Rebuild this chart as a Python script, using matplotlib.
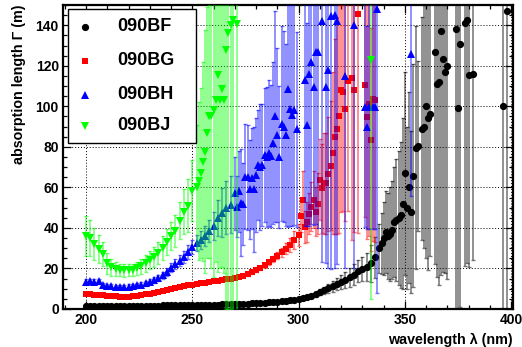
import numpy as np
import matplotlib.pyplot as plt
from matplotlib.ticker import MultipleLocator
from matplotlib.patches import Rectangle

plt.rcParams['font.family'] = ['Liberation Sans', 'DejaVu Sans']
plt.rcParams['font.weight'] = 'bold'

# ---- 090BF (black circles) ----
bf_x = list(range(200, 339, 2)) + [339, 340, 341, 342, 343, 344, 345, 346, 347, 348, 349, 350, 351,
                                   352, 353, 354, 355, 356, 358, 359, 360, 361, 362, 364, 365, 366,
                                   367, 368, 369, 370, 374, 375, 376, 378, 379, 380, 382, 396, 398]
bf_y = [1.5, 1.5, 1.5, 1.5, 1.5, 1.5, 1.5, 1.5, 1.6, 1.6,
        1.6, 1.6, 1.6, 1.6, 1.7, 1.7, 1.7, 1.7, 1.8, 1.8,
        1.8, 1.8, 1.9, 1.9, 1.9, 2.0, 2.0, 2.0, 2.1, 2.1,
        2.2, 2.2, 2.3, 2.3, 2.4, 2.5, 2.5, 2.6, 2.7, 2.8,
        2.9, 3.0, 3.1, 3.3, 3.4, 3.6, 3.8, 4.0, 4.3, 4.6,
        4.9, 5.4, 5.9, 6.5, 7.3, 8.3, 9.2, 10.2, 11.2, 12.2,
        13.2, 14.4, 15.6, 17.0, 18.6, 19.8, 20.8, 22.5, 25.5, 30.0,
        32.5, 35, 38, 36, 37, 39, 43, 44, 45, 46.4,
        52, 67, 50, 60, 48, 65.7, 79.5, 80.5, 89, 90,
        100, 94, 96, 127, 111, 112, 137, 123.5, 117, 120,
        138, 99.4, 131, 141, 142.5, 115.5, 116, 100, 147]
bf_e = [0.3, 0.3, 0.3, 0.3, 0.3, 0.3, 0.3, 0.3, 0.3, 0.3,
        0.3, 0.3, 0.3, 0.3, 0.3, 0.3, 0.3, 0.3, 0.3, 0.3,
        0.3, 0.3, 0.3, 0.3, 0.3, 0.3, 0.3, 0.3, 0.3, 0.3,
        0.3, 0.3, 0.3, 0.3, 0.3, 0.3, 0.3, 0.3, 0.3, 0.3,
        0.3, 0.3, 0.3, 0.4, 0.4, 0.4, 0.4, 0.4, 0.5, 0.5,
        0.5, 0.6, 0.8, 1.0, 1.2, 1.5, 1.8, 2.2, 2.6, 3.0,
        3.5, 4.0, 4.5, 5.0, 5.5, 6.0, 7.0, 9.0, 10, 12,
        15, 18, 20, 21, 23, 24, 27, 30, 33, 36,
        42, 50, 40, 47, 40, 55, 60, 42, 55, 60,
        75, 75, 70, 105, 95, 100, 120, 105, 99, 105,
        140, 105, 130, 120, 120, 95, 92, 110, 150]

# ---- 090BG (red squares) ----
bg_x = list(range(200, 301, 2)) + [301, 302, 303, 304, 305, 306, 307, 308, 309, 310, 311, 312, 313,
                                   314, 315, 316, 317, 318, 319, 320, 321, 322, 323, 325, 326, 328,
                                   331, 332, 333, 334, 335, 336]
bg_y = [7.4, 7.3, 7.1, 7.0, 6.8, 6.6, 6.4, 6.2, 6.1, 6.0,
        6.1, 6.2, 6.5, 6.8, 7.2, 7.6, 8.0, 8.5, 9.0, 9.5,
        10.0, 10.4, 10.9, 11.3, 11.7, 12.0, 12.3, 12.6, 12.9, 13.2,
        13.6, 13.9, 14.2, 14.6, 14.9, 15.3, 15.8, 16.4, 17.2, 18.1,
        19.0, 20.2, 21.5, 23.0, 24.6, 26.3, 28.0, 29.8, 31.6, 34.0,
        36.5,
        46, 54, 40.6, 43, 47, 50.5, 54, 48, 52, 63.7,
        59.6, 62, 62, 66.7, 70.8, 77, 85, 89, 95.3, 108,
        107.3, 98.6, 112.3, 114, 108, 145.7, 110.6, 94.5, 101, 83.6,
        103.7, 103]
bg_e = [0.4, 0.4, 0.4, 0.4, 0.4, 0.4, 0.4, 0.4, 0.4, 0.4,
        0.4, 0.4, 0.4, 0.4, 0.4, 0.4, 0.4, 0.4, 0.4, 0.4,
        0.4, 0.4, 0.4, 0.4, 0.4, 0.5, 0.5, 0.5, 0.5, 0.5,
        0.5, 0.5, 0.5, 0.5, 0.6, 0.6, 0.6, 0.7, 0.7, 0.8,
        0.9, 1.0, 1.1, 1.3, 1.5, 1.8, 2.2, 2.8, 3.5, 4.5,
        5.5,
        8, 14, 8, 10, 10, 12, 14, 12, 15, 20,
        22, 25, 25, 28, 32, 40, 48, 52, 58, 60,
        59, 55, 64, 80, 70, 108, 65, 60, 65, 55,
        70, 70]

# ---- 090BH (blue triangles) ----
bh_x = list(range(200, 259, 2)) + [260, 262, 264, 266, 268, 270, 271, 272, 273, 274, 275, 276, 277,
                                   278, 279, 280, 281, 282, 283, 284, 285, 286, 287, 288, 289, 290,
                                   291, 292, 293, 294, 295, 296, 297, 298, 299, 303, 304, 305, 306,
                                   307, 308, 309, 311, 313, 314, 315, 317, 318, 322, 326, 331, 332,
                                   333, 335, 336, 337, 353]
bh_y = [13.5, 13.6, 13.4, 13.7, 12.0, 11.5, 11.2, 11.0, 11.0, 11.0,
        11.1, 11.3, 11.6, 12.0, 12.6, 13.4, 14.3, 15.4, 16.6, 18.2,
        20.3, 22.0, 23.8, 25.8, 28.2, 30.5, 32.4, 34.0, 36.0, 38.5,
        41, 45, 47.5, 50, 51.4, 57, 50.4, 58, 52.5, 51.8,
        65.3, 65, 59, 64.5, 59, 66, 71, 70, 71, 76,
        75, 77, 75.6, 81.8, 95, 86, 75, 91.5, 90, 86,
        108.5, 98.8, 95.8, 98.3, 88.7, 113, 91, 116, 122, 109.5,
        127, 127, 142, 109.5, 118, 144.5, 145, 142, 115, 140,
        99.7, 89.7, 99.7, 99.7, 99.7, 148, 125.8]
bh_e = [1.2, 1.2, 1.2, 1.2, 1.0, 1.0, 1.0, 1.0, 1.0, 1.0,
        1.0, 1.0, 1.0, 1.1, 1.2, 1.3, 1.4, 1.5, 1.7, 2.0,
        2.2, 2.5, 2.8, 3.0, 3.3, 3.6, 4.0, 4.5, 5.0, 5.5,
        7, 9, 12, 13, 14, 18, 15, 20, 26.5, 20,
        26, 26, 24.5, 25, 31, 28, 27, 31, 30, 33,
        34.5, 36, 35, 40, 52, 43, 35, 48, 47, 45,
        68, 58, 55, 57, 48, 72, 50, 75, 80, 68,
        85, 87, 119, 87, 98, 125, 125, 120, 95, 120,
        59, 50, 60, 60, 60, 140, 70]

# ---- 090BJ (green down triangles) ----
bj_x = list(range(200, 253, 2)) + [253, 254, 255, 256, 257, 258, 259, 260, 261, 262, 263, 264, 265,
                                   266, 267, 268, 269, 271, 334]
bj_y = [36, 35, 32, 29.5, 27, 22.5, 20.5, 19.8, 19.3, 19,
        19.2, 19.4, 20, 21, 22.5, 24, 25.5, 27.5, 30, 33,
        36, 38.5, 43.6, 48, 51, 58.4, 60,
        63, 67, 72.7, 77.7, 87, 95, 95, 98, 103, 115.5,
        103, 108.6, 103, 128, 136, 140, 142.7, 140.7, 123]
bj_e = [10, 9, 8, 7, 6, 5, 4, 3.5, 3, 3,
        3, 3, 3, 3.5, 4, 4.5, 5, 5.5, 6, 6.5,
        7, 8, 9, 11, 13, 15, 31,
        39, 42, 49, 60, 62, 70, 75, 82, 80, 97,
        83, 88, 85, 128, 136, 140, 143, 141, 118]

labels = ['090BF', '090BG', '090BH', '090BJ']
colors = ['black', '#ff0000', '#0000ff', '#00ff00']
markers = ['o', 's', '^', 'v']
msizes = [5.2, 4.4, 5.2, 5.2]

fig = plt.figure(figsize=(5.22, 3.47), dpi=100)
ax = fig.add_axes([63 / 522, 38 / 347, 450 / 522, 304 / 347])

data = [(bf_x, bf_y, bf_e), (bg_x, bg_y, bg_e), (bh_x, bh_y, bh_e), (bj_x, bj_y, bj_e)]
for i, (x, y, e) in enumerate(data):
    ax.errorbar(x, y, yerr=e, fmt='none', ecolor=colors[i], elinewidth=1.1,
                capsize=1.6, capthick=1.0, alpha=0.55, zorder=2 + 2 * i)
    ax.plot(x, y, ls='none', marker=markers[i], color=colors[i], ms=msizes[i],
            mew=0, zorder=3 + 2 * i)

ax.set_xlim(189.2, 400.8)
ax.set_ylim(0, 150)
ax.xaxis.set_major_locator(MultipleLocator(50))
ax.xaxis.set_minor_locator(MultipleLocator(10))
ax.yaxis.set_major_locator(MultipleLocator(20))
ax.yaxis.set_minor_locator(MultipleLocator(5))
ax.tick_params(which='both', direction='in', top=True, right=True, width=0.9, labelsize=10, pad=3)
ax.tick_params(which='major', length=6)
ax.tick_params(which='minor', length=3)
for s in ax.spines.values():
    s.set_linewidth(1.6)
ax.grid(True, which='major', color='black', linestyle=(0, (1, 2)), linewidth=0.7)
ax.set_axisbelow(True)

ax.set_xlabel('wavelength λ (nm)', loc='right', fontsize=10.3, fontweight='bold', labelpad=4)
ax.set_ylabel('absorption length Γ (m)', loc='top', fontsize=10.3, fontweight='bold', labelpad=7)

# legend box
ax.add_patch(Rectangle((0.011, 0.546), 0.285, 0.441, transform=ax.transAxes,
                       facecolor='white', edgecolor='black', lw=1, zorder=20))
rows = [0.928, 0.816, 0.704, 0.602]
for i in range(4):
    ax.plot([0.049], [rows[i]], transform=ax.transAxes, ls='none', marker=markers[i],
            color=colors[i], ms=msizes[i], mew=0, zorder=21, clip_on=False)
    ax.text(0.12, rows[i], labels[i], transform=ax.transAxes, fontsize=13,
            fontweight='bold', va='center', ha='left', zorder=21)

fig.savefig('out.png', dpi=100)
